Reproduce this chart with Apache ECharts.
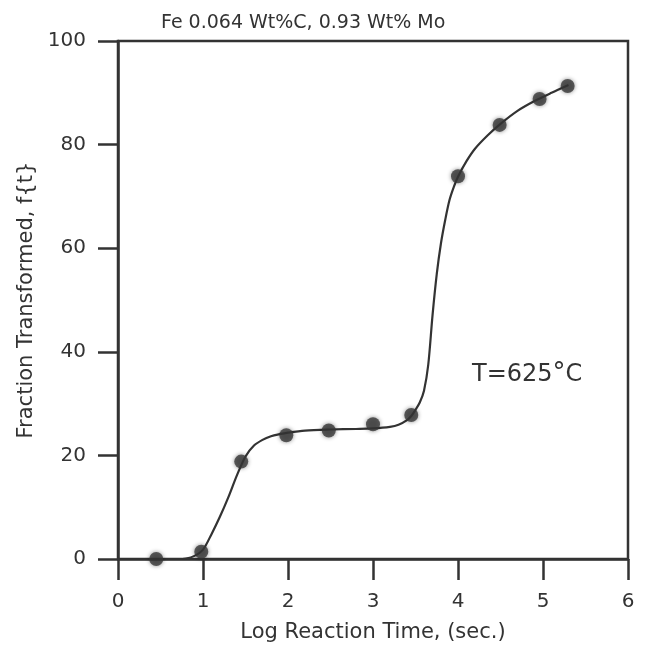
<!DOCTYPE html>
<html>
<head>
<meta charset="utf-8">
<script src="https://cdn.jsdelivr.net/npm/echarts@6/dist/echarts.min.js"></script>
<style>
html,body{margin:0;padding:0;background:#fff;}
#chart{width:645px;height:649px;}
</style>
</head>
<body>
<div id="chart"></div>
<script>
// Measured data points
const pointX = [0.45, 0.98, 1.45, 1.98, 2.48, 3.0, 3.45, 4.0, 4.49, 4.96, 5.29];
const pointY = [0, 1.4, 18.8, 23.9, 24.8, 26.0, 27.8, 73.9, 83.8, 88.8, 91.3];
// Fitted curve
const curveX = [0.45, 0.7, 0.8, 0.9, 1.0, 1.1, 1.2, 1.3, 1.4, 1.5, 1.6, 1.7, 1.8, 1.9, 2.0, 2.2, 2.5, 2.8, 3.0, 3.2, 3.3, 3.4, 3.45, 3.5, 3.55, 3.6, 3.65, 3.7, 3.75, 3.8, 3.85, 3.9, 3.95, 4.0, 4.1, 4.2, 4.35, 4.5, 4.7, 4.9, 5.1, 5.3];
const curveY = [0, 0, 0.1, 0.6, 1.8, 4.8, 8.2, 12.0, 16.2, 19.8, 21.9, 23.0, 23.7, 24.1, 24.4, 24.8, 25.0, 25.1, 25.2, 25.5, 25.9, 26.8, 27.6, 28.8, 30.2, 32.5, 37.5, 47, 55, 61, 65.5, 69.3, 71.8, 73.8, 76.8, 79.2, 81.8, 84.0, 86.5, 88.4, 90.0, 91.5];
const xTicks = [0, 1, 2, 3, 4, 5, 6];
const yTicks = [0, 20, 40, 60, 80, 100];

const FONT = 'DejaVu Sans';
const INK = '#333';

const chart = echarts.init(document.getElementById('chart'), null, {renderer: 'canvas'});
chart.setOption({
  backgroundColor: '#fff',
  animation: false,
  textStyle: {fontFamily: FONT, color: INK},
  title: {
    text: 'Fe 0.064 Wt%C, 0.93 Wt% Mo',
    left: 156, top: 9,
    textStyle: {fontFamily: FONT, fontSize: 19, fontWeight: 'normal', color: INK}
  },
  grid: {
    left: 118, right: 17, top: 41, bottom: 90,
    show: true, borderColor: INK, borderWidth: 2.5, backgroundColor: 'transparent'
  },
  xAxis: {
    type: 'value', min: xTicks[0], max: xTicks[xTicks.length - 1], interval: 1,
    name: 'Log Reaction Time, (sec.)', nameLocation: 'middle', nameGap: 63,
    nameTextStyle: {fontFamily: FONT, fontSize: 21, color: INK},
    axisLine: {show: true, onZero: false, lineStyle: {color: INK, width: 2.5}},
    axisTick: {show: true, inside: false, length: 21, lineStyle: {color: INK, width: 2.5}},
    axisLabel: {fontFamily: FONT, fontSize: 20, color: INK, margin: 33},
    splitLine: {show: false}
  },
  yAxis: {
    type: 'value', min: yTicks[0], max: yTicks[yTicks.length - 1], interval: 20,
    name: 'Fraction Transformed, f{t}', nameLocation: 'middle', nameGap: 80,
    nameTextStyle: {fontFamily: FONT, fontSize: 21, color: INK},
    axisLine: {show: true, onZero: false, lineStyle: {color: INK, width: 2.5}},
    axisTick: {show: true, inside: false, length: 20, lineStyle: {color: INK, width: 2.5}},
    axisLabel: {fontFamily: FONT, fontSize: 20, color: INK, margin: 32},
    splitLine: {show: false}
  },
  graphic: [{
    type: 'text', left: 472, top: 361,
    style: {
      text: '{a|T=625}{d|°}{a|C}',
      rich: {
        a: {fontFamily: FONT, fontSize: 24, fill: INK, color: INK},
        d: {fontFamily: FONT, fontSize: 26, fill: INK, color: INK, padding: [0, 0, 2, 0]}
      },
      fill: INK
    }
  }],
  series: [
    {
      type: 'line', name: 'fit', smooth: 0.3, showSymbol: false, silent: true,
      data: curveX.map((x, i) => [x, curveY[i]]),
      lineStyle: {color: INK, width: 2.2}, z: 2
    },
    {
      type: 'scatter', name: 'data', symbol: 'circle', symbolSize: 14,
      data: pointX.map((x, i) => [x, pointY[i]]),
      itemStyle: {color: '#383838', shadowBlur: 4, shadowColor: 'rgba(0,0,0,0.55)'}, z: 3
    }
  ]
});
</script>
</body>
</html>
